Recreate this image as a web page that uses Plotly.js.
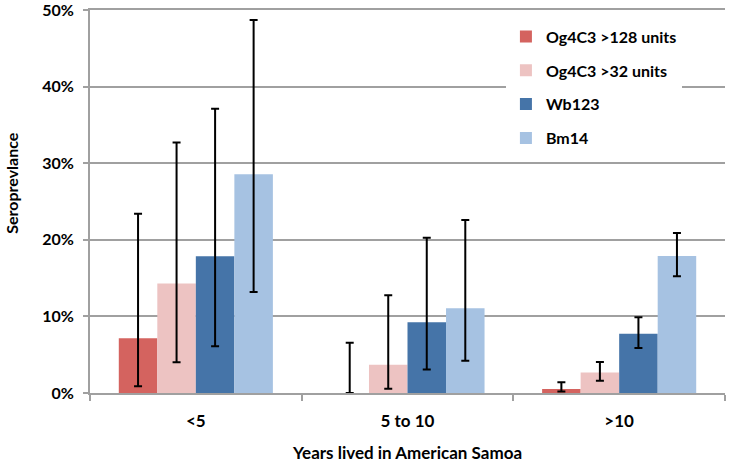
<!DOCTYPE html>
<html>
<head>
<meta charset="utf-8">
<script src="https://cdn.plot.ly/plotly-3.0.1.min.js"></script>
<style>html,body{margin:0;padding:0;background:#fff;}#chart{width:729px;height:463px;}</style>
</head>
<body>
<div id="chart"></div>
<script>
var categories = ["<5", "5 to 10", ">10"];
var seriesNames = ["Og4C3 >128 units", "Og4C3 >32 units", "Wb123", "Bm14"];
var seriesColors = ["#D4635F", "#EDC3C2", "#4574A8", "#A6C2E2"];
// values in percent
var og128 = [7.14, 0, 0.52];
var og128Low = [0.87, 0, 0.2];
var og128High = [23.4, 6.55, 1.39];
var og32 = [14.29, 3.7, 2.69];
var og32Low = [4.0, 0.56, 1.6];
var og32High = [32.7, 12.76, 4.04];
var wb123 = [17.86, 9.24, 7.73];
var wb123Low = [6.1, 3.08, 5.86];
var wb123High = [37.1, 20.27, 9.9];
var bm14 = [28.57, 11.07, 17.88];
var bm14Low = [13.2, 4.2, 15.23];
var bm14High = [48.7, 22.57, 20.9];
var yTickVals = [0, 10, 20, 30, 40, 50];
var yTickText = ["0%", "10%", "20%", "30%", "40%", "50%"];

var vals = [og128, og32, wb123, bm14];
var lows = [og128Low, og32Low, wb123Low, bm14Low];
var highs = [og128High, og32High, wb123High, bm14High];

var traces = vals.map(function (v, i) {
  return {
    type: "bar",
    name: seriesNames[i],
    legendgroup: "g" + i,
    x: categories,
    y: v,
    marker: {color: seriesColors[i], line: {width: 0}},
    error_y: {
      type: "data",
      symmetric: false,
      array: highs[i].map(function (h, j) { return h - v[j]; }),
      arrayminus: lows[i].map(function (l, j) { return v[j] - l; }),
      color: "#000000",
      thickness: 2,
      width: 4
    }
  };
});

var font = "Lato, 'Open Sans', sans-serif";
var layout = {
  width: 729,
  height: 463,
  margin: {l: 90, r: 4, t: 10, b: 70},
  paper_bgcolor: "#ffffff",
  plot_bgcolor: "#ffffff",
  barmode: "group",
  bargap: 0.272,
  bargroupgap: 0,
  showlegend: true,
  legend: {
    x: 0.655, y: 0.975, xanchor: "left", yanchor: "top",
    bgcolor: "#ffffff",
    font: {family: font, size: 16, color: "#000", weight: "bold"},
    itemwidth: 30,
    tracegroupgap: 10,
    traceorder: "grouped"
  },
  xaxis: {
    type: "category",
    showline: true,
    mirror: true,
    linecolor: "#a0a0a0",
    linewidth: 2,
    ticks: "outside",
    tickson: "boundaries",
    ticklen: 6,
    tickcolor: "#a0a0a0",
    tickwidth: 2,
    showgrid: false,
    ticklabelstandoff: 12,
    tickfont: {family: font, size: 17, color: "#000", weight: "bold"},
    title: {text: "Years lived in American Samoa", font: {family: font, size: 17, color: "#000", weight: "bold"}, standoff: 19}
  },
  yaxis: {
    range: [0, 50],
    tickvals: yTickVals,
    ticktext: yTickText,
    showline: true,
    linecolor: "#a0a0a0",
    linewidth: 2,
    ticks: "outside",
    ticklen: 5,
    tickcolor: "#a0a0a0",
    tickwidth: 2,
    showgrid: true,
    gridcolor: "#a0a0a0",
    gridwidth: 2,
    zeroline: false,
    ticklabelstandoff: 6,
    ticklabeloverflow: "allow",
    tickfont: {family: font, size: 16, color: "#000", weight: "bold"}
  },
  annotations: [{
    text: "Seroprevlance",
    xref: "paper", yref: "paper",
    x: 0, y: 0.549,
    xanchor: "center", yanchor: "middle",
    xshift: -78,
    textangle: -90,
    showarrow: false,
    font: {family: font, size: 16, color: "#000", weight: "bold"}
  }]
};

Plotly.newPlot("chart", traces, layout, {displayModeBar: false, staticPlot: true});
</script>
</body>
</html>
